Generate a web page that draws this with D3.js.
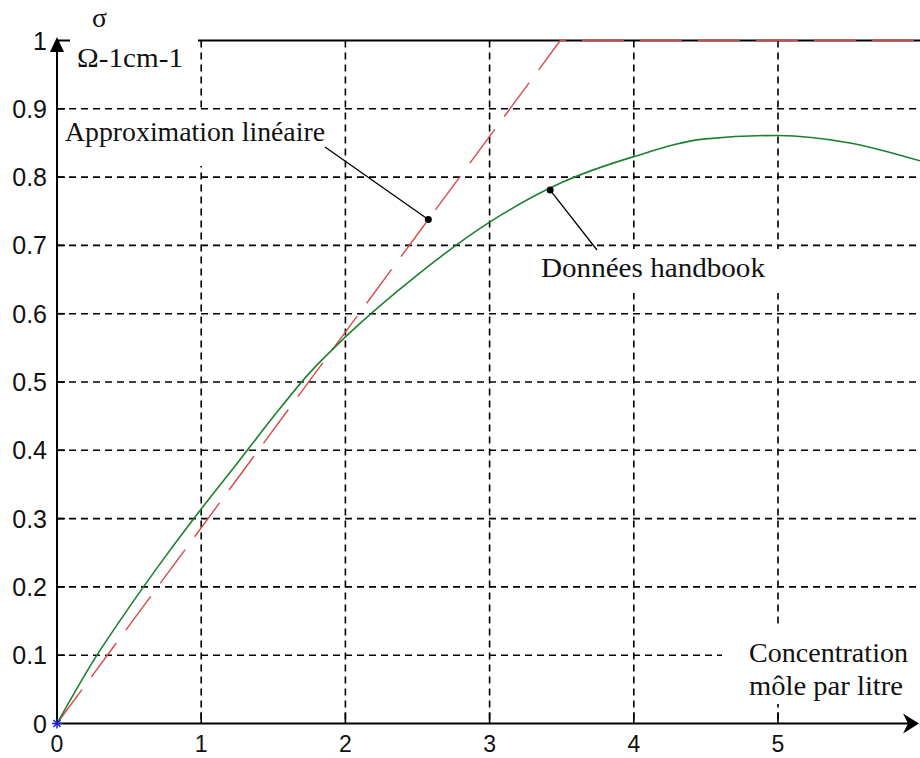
<!DOCTYPE html>
<html>
<head>
<meta charset="utf-8">
<script src="https://cdn.jsdelivr.net/npm/d3@7"></script>
<style>
  html, body { margin: 0; padding: 0; background: #fff; }
  svg { display: block; }
</style>
</head>
<body>
<script>
// ---------- data ----------
const xTicks = [0, 1, 2, 3, 4, 5];
const xTickLabels = ["0", "1", "2", "3", "4", "5"];
const yTicks = [0, 0.1, 0.2, 0.3, 0.4, 0.5, 0.6, 0.7, 0.8, 0.9, 1];
const yTickLabels = ["0", "0.1", "0.2", "0.3", "0.4", "0.5", "0.6", "0.7", "0.8", "0.9", "1"];

// Données handbook (conductivity, Ω-1 cm-1 vs mol/L)
const handbookX = [0, 0.25, 0.5, 0.75, 1, 1.25, 1.5, 1.75, 2, 2.5, 3, 3.5, 4, 4.5, 5, 5.5, 6, 6.1];
const handbookY = [0, 0.091, 0.17, 0.244, 0.314, 0.381, 0.449, 0.513, 0.566, 0.657, 0.734, 0.792, 0.83, 0.856, 0.861, 0.85, 0.823, 0.817];

// Approximation linéaire (clipped at 1)
const approxX = [0, 3.49, 6.1];
const approxY = [0, 1, 1];

// annotation anchor points (data coords)
const annotLabels = ["Approximation linéaire", "Données handbook"];
const annotX = [2.575, 3.42];
const annotY = [0.738, 0.781];

const yAxisLabel1 = "σ";
const yAxisLabel2 = "Ω-1cm-1";
const xAxisLabel1 = "Concentration";
const xAxisLabel2 = "môle par litre";

// ---------- layout ----------
const W = 920, H = 758;
const x = d3.scaleLinear().domain([0, 6]).range([57, 57 + 6 * 144.2]);
const y = d3.scaleLinear().domain([0, 1]).range([723.5, 40.5]);

const svg = d3.select("body").append("svg").attr("width", W).attr("height", H);
svg.append("rect").attr("width", W).attr("height", H).attr("fill", "#fff");

const serif = "'Liberation Serif', 'Times New Roman', serif";
const sans = "'Liberation Sans', Arial, sans-serif";

// grid
const grid = svg.append("g").attr("stroke", "#000").attr("stroke-width", 1.6)
  .attr("stroke-dasharray", "7,5").attr("fill", "none");
grid.selectAll("line.h").data(yTicks.filter(d => d > 0 && d < 1)).enter().append("line")
  .attr("x1", x(0)).attr("x2", W).attr("y1", d => y(d)).attr("y2", d => y(d));
grid.selectAll("line.v").data(xTicks.filter(d => d > 0)).enter().append("line")
  .attr("x1", d => x(d)).attr("x2", d => x(d)).attr("y1", y(1)).attr("y2", y(0));

// top box line
svg.append("line").attr("x1", x(0)).attr("x2", W).attr("y1", y(1)).attr("y2", y(1))
  .attr("stroke", "#000").attr("stroke-width", 1.8);

// ticks (solid, inward)
svg.append("g").selectAll("line").data(xTicks.filter(d => d > 0)).enter().append("line")
  .attr("x1", d => x(d)).attr("x2", d => x(d)).attr("y1", y(0)).attr("y2", y(0) - 11)
  .attr("stroke", "#000").attr("stroke-width", 1.6);
svg.append("g").selectAll("line").data(yTicks.filter(d => d > 0 && d < 1)).enter().append("line")
  .attr("x1", x(0)).attr("x2", x(0) + 8).attr("y1", d => y(d)).attr("y2", d => y(d))
  .attr("stroke", "#000").attr("stroke-width", 1.6);

// curves
const line = d3.line().x(d => x(d[0])).y(d => y(d[1]));
const hbData = handbookX.map((v, i) => [v, handbookY[i]]);
const apData = approxX.map((v, i) => [v, approxY[i]]);

svg.append("path").datum(apData)
  .attr("d", line)
  .attr("fill", "none").attr("stroke", "#d84848").attr("stroke-width", 1.4)
  .attr("stroke-dasharray", "42,16");

svg.append("path").datum(hbData)
  .attr("d", line.curve(d3.curveMonotoneX))
  .attr("fill", "none").attr("stroke", "#1d8030").attr("stroke-width", 1.6);

// label boxes (white backgrounds)
const boxes = [
  [70, 8, 128, 62],      // y axis label
  [60, 111, 272, 55],    // Approximation linéaire
  [535, 249, 250, 44],   // Données handbook
  [722, 624, 196, 80]    // Concentration
];
svg.append("g").selectAll("rect").data(boxes).enter().append("rect")
  .attr("x", d => d[0]).attr("y", d => d[1]).attr("width", d => d[2]).attr("height", d => d[3])
  .attr("fill", "#fff");

// axes
svg.append("line").attr("x1", x(0)).attr("x2", 908).attr("y1", y(0)).attr("y2", y(0))
  .attr("stroke", "#000").attr("stroke-width", 2);
svg.append("line").attr("x1", x(0)).attr("x2", x(0)).attr("y1", y(0)).attr("y2", 50)
  .attr("stroke", "#000").attr("stroke-width", 2);
// arrow heads
svg.append("path").attr("d", `M${x(0)},37 L${x(0) - 7},52 L${x(0) + 7},52 Z`).attr("fill", "#000");
svg.append("path").attr("d", `M919,${y(0)} L903,${y(0) - 10} L908,${y(0)} L903,${y(0) + 10} Z`).attr("fill", "#000");

// tick labels
svg.append("g").selectAll("text").data(yTicks).enter().append("text")
  .attr("x", 47).attr("y", d => y(d)).attr("dy", "0.36em")
  .attr("text-anchor", "end").attr("font-family", sans).attr("font-size", 25)
  .attr("fill", "#111").text((d, i) => yTickLabels[i]);
svg.append("g").selectAll("text").data(xTicks).enter().append("text")
  .attr("x", d => x(d)).attr("y", 752)
  .attr("text-anchor", "middle").attr("font-family", sans).attr("font-size", 23)
  .attr("fill", "#111").text((d, i) => xTickLabels[i]);

// annotation leader lines and dots
const leaderEnds = [[325, 147], [597, 250]];
annotX.forEach((ax, i) => {
  svg.append("line").attr("x1", leaderEnds[i][0]).attr("y1", leaderEnds[i][1])
    .attr("x2", x(ax)).attr("y2", y(annotY[i]))
    .attr("stroke", "#000").attr("stroke-width", 1.3);
  svg.append("circle").attr("cx", x(ax)).attr("cy", y(annotY[i])).attr("r", 3.5).attr("fill", "#000");
});

// texts
function stext(t, xx, yy, len, size) {
  const el = svg.append("text").attr("x", xx).attr("y", yy)
    .attr("font-family", serif).attr("font-size", size || 27).attr("fill", "#111").text(t);
  if (len) el.attr("textLength", len).attr("lengthAdjust", "spacingAndGlyphs");
  return el;
}
stext(annotLabels[0], 65, 141, 260);
stext(annotLabels[1], 541, 277, 224);
stext(xAxisLabel1, 749, 662, 159);
stext(xAxisLabel2, 749, 695, 154);
stext(yAxisLabel1, 92, 27, 15);
stext(yAxisLabel2, 77, 67, 106);

// origin marker (blue star)
const star = svg.append("g").attr("transform", `translate(${x(0)},${y(0)})`)
  .attr("stroke", "#2020c0").attr("stroke-width", 1.5);
[0, 45, 90, 135].forEach(a => {
  star.append("line").attr("x1", -5).attr("x2", 5).attr("y1", 0).attr("y2", 0)
    .attr("transform", `rotate(${a})`);
});
</script>
</body>
</html>
